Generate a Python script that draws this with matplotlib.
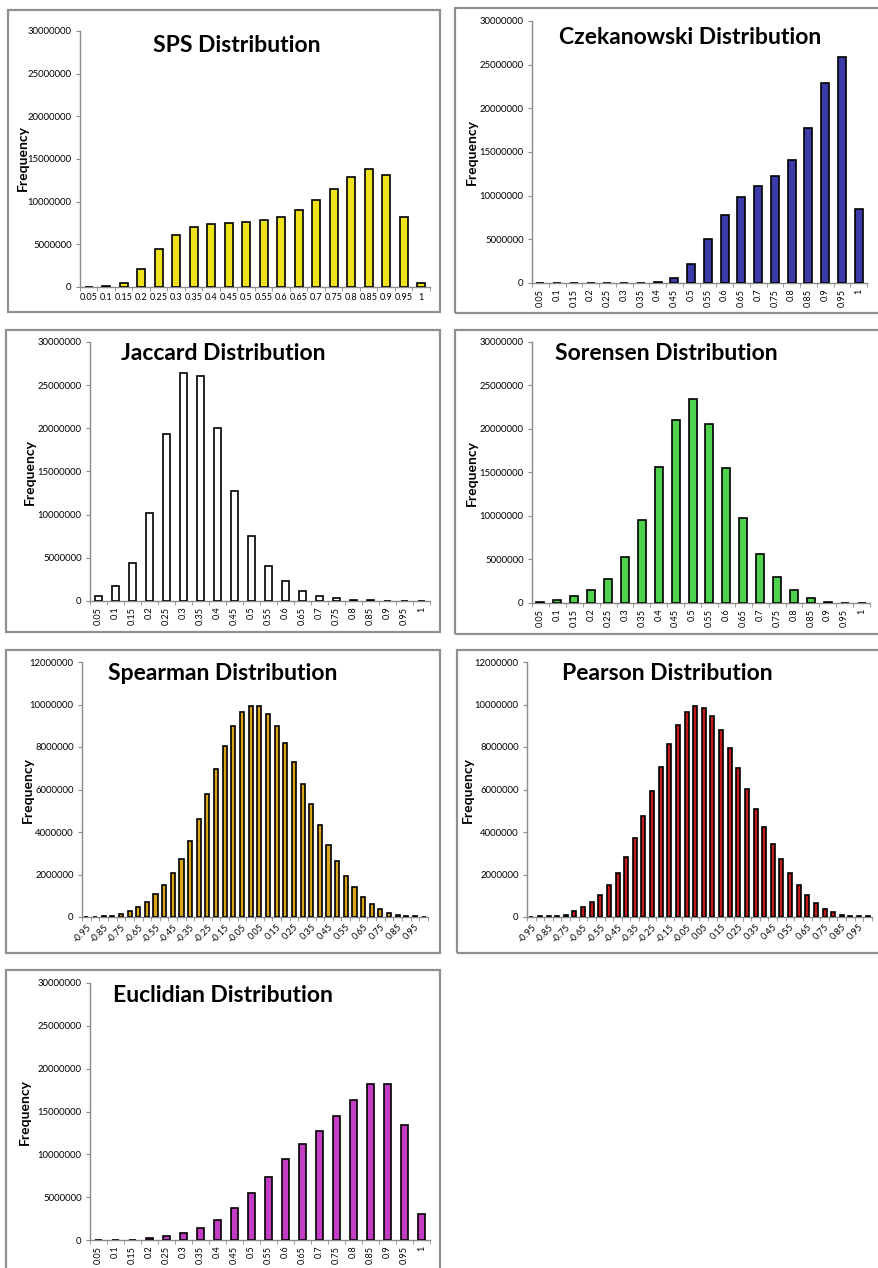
import matplotlib
matplotlib.use("Agg")
import matplotlib.pyplot as plt
from matplotlib.patches import Rectangle
import numpy as np

W, H = 879, 1268

# category labels (bin upper bounds)
BINS = ["0.05", "0.1", "0.15", "0.2", "0.25", "0.3", "0.35", "0.4", "0.45", "0.5",
        "0.55", "0.6", "0.65", "0.7", "0.75", "0.8", "0.85", "0.9", "0.95", "1"]
CORR_BINS = ["-0.95", "-0.9", "-0.85", "-0.8", "-0.75", "-0.7", "-0.65", "-0.6", "-0.55", "-0.5",
             "-0.45", "-0.4", "-0.35", "-0.3", "-0.25", "-0.2", "-0.15", "-0.1", "-0.05", "0",
             "0.05", "0.1", "0.15", "0.2", "0.25", "0.3", "0.35", "0.4", "0.45", "0.5",
             "0.55", "0.6", "0.65", "0.7", "0.75", "0.8", "0.85", "0.9", "0.95", "1"]

# frequencies, in millions
SPS = [0.0, 0.1, 0.5, 2.15, 4.5, 6.15, 7.0, 7.35, 7.47, 7.6,
       7.8, 8.2, 9.07, 10.17, 11.5, 12.9, 13.77, 13.1, 8.2, 0.5]
CZEKANOWSKI = [0.0, 0.0, 0.0, 0.0, 0.0, 0.0, 0.05, 0.1, 0.6, 2.2,
               5.0, 7.8, 9.8, 11.1, 12.2, 14.05, 17.7, 22.9, 25.9, 8.5]
JACCARD = [0.58, 1.74, 4.44, 10.2, 19.3, 26.45, 26.1, 20.0, 12.7, 7.53,
           4.05, 2.28, 1.2, 0.58, 0.3, 0.15, 0.08, 0.05, 0.03, 0.05]
SORENSEN = [0.15, 0.4, 0.75, 1.55, 2.8, 5.25, 9.5, 15.6, 21.0, 23.5,
            20.55, 15.5, 9.75, 5.65, 3.0, 1.45, 0.57, 0.15, 0.05, 0.05]
SPEARMAN = [0.01, 0.02, 0.03, 0.05, 0.12, 0.27, 0.47, 0.72, 1.07, 1.49,
            2.07, 2.75, 3.6, 4.63, 5.8, 6.95, 8.03, 8.97, 9.63, 9.95,
            9.91, 9.57, 8.99, 8.17, 7.28, 6.27, 5.3, 4.31, 3.4, 2.62,
            1.95, 1.41, 0.96, 0.61, 0.36, 0.2, 0.1, 0.05, 0.03, 0.02]
PEARSON = [0.02, 0.03, 0.04, 0.06, 0.11, 0.28, 0.47, 0.7, 1.05, 1.49,
           2.09, 2.82, 3.72, 4.77, 5.91, 7.06, 8.13, 9.02, 9.63, 9.91,
           9.82, 9.44, 8.82, 7.97, 7.01, 6.04, 5.1, 4.24, 3.45, 2.75,
           2.07, 1.49, 1.05, 0.67, 0.39, 0.24, 0.11, 0.06, 0.03, 0.03]
EUCLIDIAN = [0.05, 0.05, 0.05, 0.2, 0.43, 0.85, 1.44, 2.37, 3.7, 5.44,
             7.38, 9.4, 11.15, 12.7, 14.42, 16.32, 18.19, 18.23, 13.37, 3.03]

plt.rcParams["font.family"] = ["Lato", "DejaVu Sans"]
AXC = "#8a8a8a"

fig = plt.figure(figsize=(W / 100, H / 100), dpi=100)


def px_rect(l, t, r, b):
    return [l / W, 1 - b / H, (r - l) / W, (b - t) / H]


def panel(frame, rect, cats, vals, color, title, title_xy, freq_xy,
          ymax, ystep, rot=0, every=1):
    x0, y0, x1, y1 = frame
    fig.patches.append(Rectangle((x0 / W, 1 - y1 / H), (x1 - x0) / W, (y1 - y0) / H,
                                 transform=fig.transFigure, fill=False,
                                 ec="#8f8f8f", lw=1.6))
    ax = fig.add_axes(px_rect(*rect))
    x = np.arange(len(cats))
    ax.bar(x, np.array(vals) * 1e6, width=0.47, color=color,
           edgecolor="black", linewidth=1.2, zorder=3)
    ax.set_xlim(-0.5, len(cats) - 0.5)
    ax.set_ylim(0, ymax)
    ax.set_yticks(np.arange(0, ymax + 1, ystep))
    ax.yaxis.set_major_formatter(lambda v, p: f"{int(round(v))}")
    ax.set_xticks(x[::every])
    if rot == 45:
        ax.set_xticklabels(cats[::every], rotation=45, ha="right",
                           rotation_mode="anchor")
    else:
        ax.set_xticklabels(cats[::every], rotation=rot)
    ax.set_xticks(np.arange(len(cats) + 1) - 0.5, minor=True)
    ax.tick_params(axis="x", which="major", length=0, labelsize=6.6, pad=4)
    ax.tick_params(axis="x", which="minor", length=3, color=AXC)
    ax.tick_params(axis="y", length=3, color=AXC, labelsize=6.9, pad=3)
    for s in ("top", "right"):
        ax.spines[s].set_visible(False)
    for s in ("left", "bottom"):
        ax.spines[s].set_color(AXC)
        ax.spines[s].set_linewidth(1.0)
    ax.patch.set_alpha(0)
    fig.text(title_xy[0] / W, 1 - title_xy[1] / H, title, ha="center", va="center",
             fontsize=16.5, fontweight="bold")
    fig.text(freq_xy[0] / W, 1 - freq_xy[1] / H, "Frequency", ha="center", va="center",
             rotation=90, fontsize=10, fontweight="bold")
    return ax


panel((8, 10, 440, 312), (80, 31, 430, 287), BINS, SPS, "#EEE21B",
      "SPS Distribution", (237, 45), (23, 158), 30e6, 5e6)
panel((455, 8, 890, 313), (532, 21, 867, 283), BINS, CZEKANOWSKI, "#3C3CA8",
      "Czekanowski Distribution", (690, 37), (472, 152), 30e6, 5e6, rot=90)
panel((6, 330, 440, 632), (90, 342, 430, 601), BINS, JACCARD, "white",
      "Jaccard Distribution", (223, 354), (30, 472), 30e6, 5e6, rot=90)
panel((455, 330, 890, 634), (532, 342, 870, 603), BINS, SORENSEN, "#4ED24E",
      "Sorensen Distribution", (666, 354), (472, 473), 30e6, 5e6, rot=90)
panel((6, 650, 440, 953), (82, 662, 428, 917), CORR_BINS, SPEARMAN, "#D9A514",
      "Spearman Distribution", (223, 674), (28, 790), 12e6, 2e6, rot=45, every=2)
panel((457, 650, 890, 953), (527, 662, 872, 917), CORR_BINS, PEARSON, "#C41A1A",
      "Pearson Distribution", (667, 674), (468, 790), 12e6, 2e6, rot=45, every=2)
panel((6, 970, 440, 1290), (90, 983, 430, 1240), BINS, EUCLIDIAN, "#C43DC4",
      "Euclidian Distribution", (223, 996), (25, 1112), 30e6, 5e6, rot=90)

fig.savefig("out.png", dpi=100)
